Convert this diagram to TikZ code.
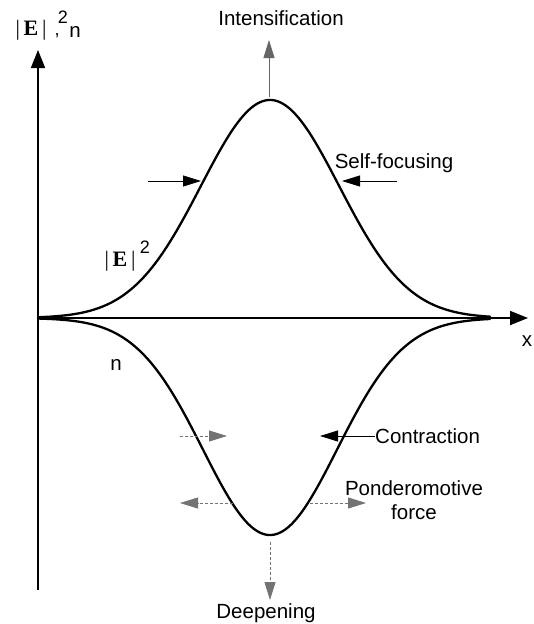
\documentclass[tikz,border=0pt]{standalone}
\usepackage{fontspec}
\setmainfont{Liberation Sans}
\newfontfamily\serifE{Liberation Serif}
\usetikzlibrary{arrows.meta}
\begin{document}
\begin{tikzpicture}[x=1pt,y=-1pt,
  lbl/.style={font=\fontsize{20.5}{24}\selectfont, inner sep=0pt},
  elbl/.style={font=\fontsize{22}{24}\selectfont\serifE, inner sep=0pt},
  sup/.style={font=\fontsize{18}{20}\selectfont, inner sep=0pt},
  curve/.style={line width=2.3pt, line cap=round},
  axis/.style={line width=1.8pt, -{Triangle[length=18pt,width=14pt]}},
  force/.style={line width=0.8pt, -{Triangle[length=18pt,width=11pt]}},
  faint/.style={force, draw=black!55, dash pattern=on 3pt off 2pt},
]
\useasboundingbox (0,0) rectangle (533,624);
% axes
\coordinate (O) at (38,318);
\coordinate (ybot) at (38,590);
\coordinate (ytop) at (38,50);
\coordinate (xend) at (528,318);
\draw[axis] (ybot) -- (ytop);
\draw[axis] (O) -- (xend);
% curves
\draw[curve] plot[domain=38:490,samples=200] (\x,{318-218*exp(-0.5*((\x-270)/69)^2)});
\draw[curve] plot[domain=38:490,samples=200] (\x,{318+217*exp(-0.5*((\x-270)/67)^2)});
% axis labels
\node[elbl] (ylab) at (31,30) {|\,\textbf{E}\,|};
\node[sup] (ycomma) at (57,36) {,};
\node[sup] (ytwo) at (63,17) {2};
\node[lbl] (yn) at (75,32) {n};
\node[lbl] (xlab) at (527,341) {x};
\node[elbl] (Elab) at (120,261) {|\,\textbf{E}\,|};
\node[sup] (Etwo) at (145,247) {2};
\node[lbl] (nlab) at (116,365) {n};
% annotations
\node[lbl] (int) at (281,18) {Intensification};
\coordinate (intA) at (269,97);
\coordinate (intB) at (269,40);
\draw[force, draw=black!60] (intA) -- (intB);

\node[lbl] (sf) at (394,163) {Self-focusing};
\coordinate (sfL0) at (148,181);
\coordinate (sfL1) at (201,181);
\coordinate (sfR0) at (397,181);
\coordinate (sfR1) at (342,181);
\draw[force] (sfL0) -- (sfL1);
\draw[force] (sfR0) -- (sfR1);

\node[lbl, anchor=west] (con) at (375,436) {Contraction};
\coordinate (conR) at (320,436);
\draw[force] (con.west) -- (conR);
\coordinate (conL0) at (180,436);
\coordinate (conL1) at (227,436);
\draw[faint] (conL0) -- (conL1);

\node[lbl, align=center] (pf) at (414,500) {Ponderomotive\\force};
\coordinate (pfL0) at (233,503);
\coordinate (pfL1) at (180,503);
\coordinate (pfR0) at (310,503);
\coordinate (pfR1) at (366,503);
\draw[faint] (pfL0) -- (pfL1);
\draw[faint] (pfR0) -- (pfR1);

\node[lbl] (dp) at (266,613) {Deepening};
\coordinate (dpA) at (270,542);
\coordinate (dpB) at (270,600);
\draw[faint] (dpA) -- (dpB);
\end{tikzpicture}
\end{document}
